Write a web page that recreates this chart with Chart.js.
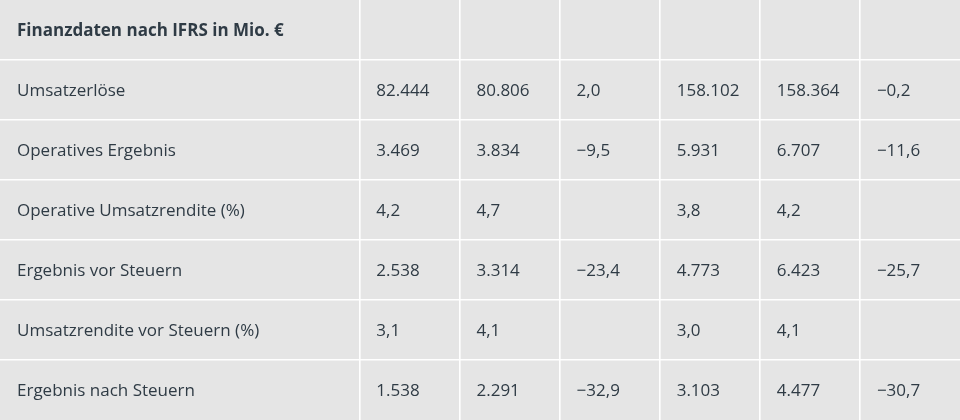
<!DOCTYPE html>
<html>
<head>
<meta charset="utf-8">
<script src="https://cdn.jsdelivr.net/npm/chart.js@4"></script>
<style>
  html, body { margin: 0; padding: 0; background: #e5e5e5; }
  #wrap { width: 960px; height: 420px; }
</style>
</head>
<body>
<div id="wrap"><canvas id="c" width="960" height="420"></canvas></div>
<script>
// ---- data ----
const headerTitle = "Finanzdaten nach IFRS in Mio. €";
const rowLabels = [
  "Umsatzerlöse",
  "Operatives Ergebnis",
  "Operative Umsatzrendite (%)",
  "Ergebnis vor Steuern",
  "Umsatzrendite vor Steuern (%)",
  "Ergebnis nach Steuern"
];
const isPercentRow = [false, false, true, false, true, false];
const q2Current   = [82444, 3469, 4.2, 2538, 3.1, 1538];
const q2Previous  = [80806, 3834, 4.7, 3314, 4.1, 2291];
const q2Change    = [2.0, -9.5, null, -23.4, null, -32.9];
const h1Current   = [158102, 5931, 3.8, 4773, 3.0, 3103];
const h1Previous  = [158364, 6707, 4.2, 6423, 4.1, 4477];
const h1Change    = [-0.2, -11.6, null, -25.7, null, -30.7];

// ---- layout (table geometry in scale units) ----
const labelColWidth = 3.59;   // first column width (units of 100px)
const dataColWidth = 1.0;
const dataColumns = [q2Current, q2Previous, q2Change, h1Current, h1Previous, h1Change];
const changeCols = [2, 5];

const colEdges = [0, labelColWidth];
dataColumns.forEach((_, i) => colEdges.push(+(labelColWidth + (i + 1) * dataColWidth).toFixed(2)));
const xMax = colEdges[colEdges.length - 1];
const nRows = rowLabels.length + 1;

function fmt(v, colIdx, rowIdx) {
  if (v === null || v === undefined) return "";
  const dec = (changeCols.includes(colIdx) || isPercentRow[rowIdx]) ? 1 : 0;
  return new Intl.NumberFormat("de-DE", { minimumFractionDigits: dec, maximumFractionDigits: dec })
    .format(v).replace("-", "\u2212");
}

// build cell points
const cells = [];
cells.push({ x: 0, y: 0.5, text: headerTitle, bold: true });
rowLabels.forEach((lab, r) => {
  cells.push({ x: 0, y: r + 1.5, text: lab, bold: false });
  dataColumns.forEach((col, c) => {
    cells.push({ x: colEdges[c + 1], y: r + 1.5, text: fmt(col[r], c, r), bold: false });
  });
});

const textPlugin = {
  id: "cellText",
  beforeDraw(chart) {
    const ctx = chart.ctx;
    ctx.save();
    ctx.fillStyle = "#e5e5e5";
    ctx.fillRect(0, 0, chart.width, chart.height);
    ctx.restore();
  },
  afterDatasetsDraw(chart) {
    const ctx = chart.ctx;
    const meta = chart.getDatasetMeta(0);
    ctx.save();
    ctx.textBaseline = "middle";
    ctx.textAlign = "left";
    ctx.fillStyle = "#2f3b45";
    meta.data.forEach((el, i) => {
      const cell = cells[i];
      if (!cell.text) return;
      ctx.font = (cell.bold ? "700 " : "400 ") + "17px 'Open Sans', sans-serif";
      ctx.fillText(cell.text, el.x + 17, el.y + 1);
    });
    ctx.restore();
  }
};

new Chart(document.getElementById("c"), {
  type: "scatter",
  data: {
    datasets: [{
      data: cells.map(c => ({ x: c.x, y: c.y })),
      pointRadius: 0,
      pointHoverRadius: 0
    }]
  },
  options: {
    responsive: false,
    animation: false,
    events: [],
    layout: { padding: 0 },
    plugins: { legend: { display: false }, tooltip: { enabled: false } },
    scales: {
      x: {
        type: "linear",
        min: 0, max: xMax,
        afterBuildTicks(scale) { scale.ticks = colEdges.slice(1, -1).map(v => ({ value: v })); },
        ticks: { display: false },
        grid: { color: "#ffffff", lineWidth: 1.6, drawTicks: false },
        border: { display: false }
      },
      y: {
        type: "linear",
        reverse: true,
        min: 0, max: nRows,
        afterBuildTicks(scale) {
          const t = [];
          for (let i = 1; i < nRows; i++) t.push({ value: i });
          scale.ticks = t;
        },
        ticks: { display: false },
        grid: { color: "#ffffff", lineWidth: 1.6, drawTicks: false },
        border: { display: false }
      }
    }
  },
  plugins: [textPlugin]
});
</script>
</body>
</html>
